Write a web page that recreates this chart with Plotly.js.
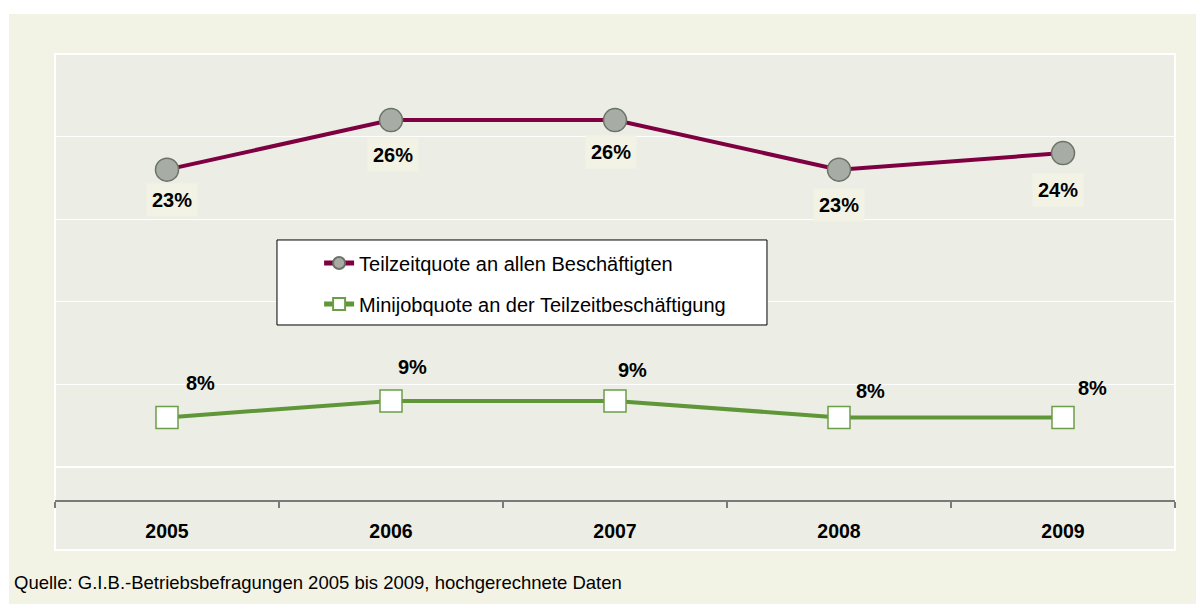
<!DOCTYPE html>
<html>
<head>
<meta charset="utf-8">
<script src="https://cdn.plot.ly/plotly-3.0.1.min.js"></script>
<style>html,body{margin:0;padding:0;background:#fff;}#chart{width:1196px;height:604px;}</style>
</head>
<body>
<div id="chart"></div>
<script>
// ---- data ----
const years = ['2005', '2006', '2007', '2008', '2009'];
const teilzeitName = 'Teilzeitquote an allen Beschäftigten';
const teilzeit = [23, 26, 26, 23, 24];
const minijobName = 'Minijobquote an der Teilzeitbeschäftigung';
const minijob = [8, 9, 9, 8, 8];
const sourceNote = 'Quelle: G.I.B.-Betriebsbefragungen 2005 bis 2009, hochgerechnete Daten';

// ---- label placement (pixel offsets, style only) ----
const tzShiftX = [5, 2, -4, 0, -5];
const tzShiftY = [-30, -35, -32, -35, -37];
const mjShiftX = [33, 21, 17, 31, 29];
const mjShiftY = [34, 34, 31, 26, 29];

const FONT = 'Arial, "Liberation Sans", sans-serif';
const BEIGE = '#f3f3e5';
const PANEL = '#eceee6';

const traces = [
  {
    x: years, y: teilzeit, name: teilzeitName, type: 'scatter', mode: 'lines+markers',
    line: {color: '#7f0041', width: 4},
    marker: {symbol: 'circle', size: 23, color: '#a7aca5', line: {color: '#6b7268', width: 1.5}},
    legend: 'legend', hoverinfo: 'skip', cliponaxis: false
  },
  {
    x: years, y: minijob, name: minijobName, type: 'scatter', mode: 'lines+markers',
    line: {color: '#5e9638', width: 4},
    marker: {symbol: 'square', size: 22, color: '#ffffff', line: {color: '#6a9e47', width: 1.5}},
    legend: 'legend2', hoverinfo: 'skip', cliponaxis: false
  }
];

const annotations = [];
years.forEach((yr, i) => {
  annotations.push({
    x: i, y: teilzeit[i], xref: 'x', yref: 'y', text: '<b>' + teilzeit[i] + '%</b>',
    showarrow: false, xshift: tzShiftX[i], yshift: tzShiftY[i],
    font: {family: FONT, size: 20, color: '#000'}, bgcolor: BEIGE, borderpad: 5
  });
  annotations.push({
    x: i, y: minijob[i], xref: 'x', yref: 'y', text: '<b>' + minijob[i] + '%</b>',
    showarrow: false, xshift: mjShiftX[i], yshift: mjShiftY[i],
    font: {family: FONT, size: 20, color: '#000'}
  });
});
annotations.push({
  x: -0.0384, y: -0.1839, xref: 'paper', yref: 'paper', xanchor: 'left', yanchor: 'middle',
  text: sourceNote, showarrow: false, font: {family: FONT, size: 18.5, color: '#000'}
});

const layout = {
  width: 1196, height: 604, autosize: false,
  margin: {l: 55, r: 21, t: 54, b: 104, pad: 0},
  paper_bgcolor: '#ffffff', plot_bgcolor: 'rgba(0,0,0,0)',
  font: {family: FONT, color: '#000'},
  showlegend: true,
  xaxis: {
    type: 'category', range: [-0.5, 4.5], fixedrange: true,
    showgrid: false, zeroline: false,
    showline: true, linecolor: '#7a7a7a', linewidth: 1.5,
    ticks: 'outside', tickson: 'boundaries', ticklen: 6, tickcolor: '#7a7a7a', tickwidth: 1.5,
    tickfont: {family: FONT, size: 19.5, color: '#000', weight: 'bold'},
    ticklabelstandoff: 13
  },
  yaxis: {
    range: [3, 30], tick0: 0, dtick: 5, fixedrange: true,
    showticklabels: false, showgrid: true, gridcolor: '#ffffff', gridwidth: 1.2,
    zeroline: false, showline: false, ticks: ''
  },
  legend: {
    x: 0.2358, y: 0.5314, xanchor: 'left', yanchor: 'middle',
    bgcolor: 'rgba(0,0,0,0)', borderwidth: 0, itemsizing: 'constant',
    font: {family: FONT, size: 20, color: '#000'}
  },
  legend2: {
    x: 0.2358, y: 0.4395, xanchor: 'left', yanchor: 'middle',
    bgcolor: 'rgba(0,0,0,0)', borderwidth: 0, itemsizing: 'constant',
    font: {family: FONT, size: 20, color: '#000'}
  },
  shapes: [
    {type: 'rect', xref: 'paper', yref: 'paper', x0: -0.04107, x1: 1.0188, y0: -0.2332, y1: 1.0897,
     fillcolor: BEIGE, line: {width: 0}, layer: 'below'},
    {type: 'rect', xref: 'paper', yref: 'paper', x0: 0, x1: 1, y0: -0.1121, y1: 1,
     fillcolor: PANEL, line: {color: '#ffffff', width: 2}, layer: 'below'},
    {type: 'rect', xref: 'paper', yref: 'paper', x0: 0.1982, x1: 0.6357, y0: 0.3924, y1: 0.5830,
     fillcolor: '#ffffff', line: {color: '#000000', width: 1}, layer: 'above'}
  ],
  annotations: annotations
};

Plotly.newPlot('chart', traces, layout, {displayModeBar: false, staticPlot: true});
</script>
</body>
</html>
